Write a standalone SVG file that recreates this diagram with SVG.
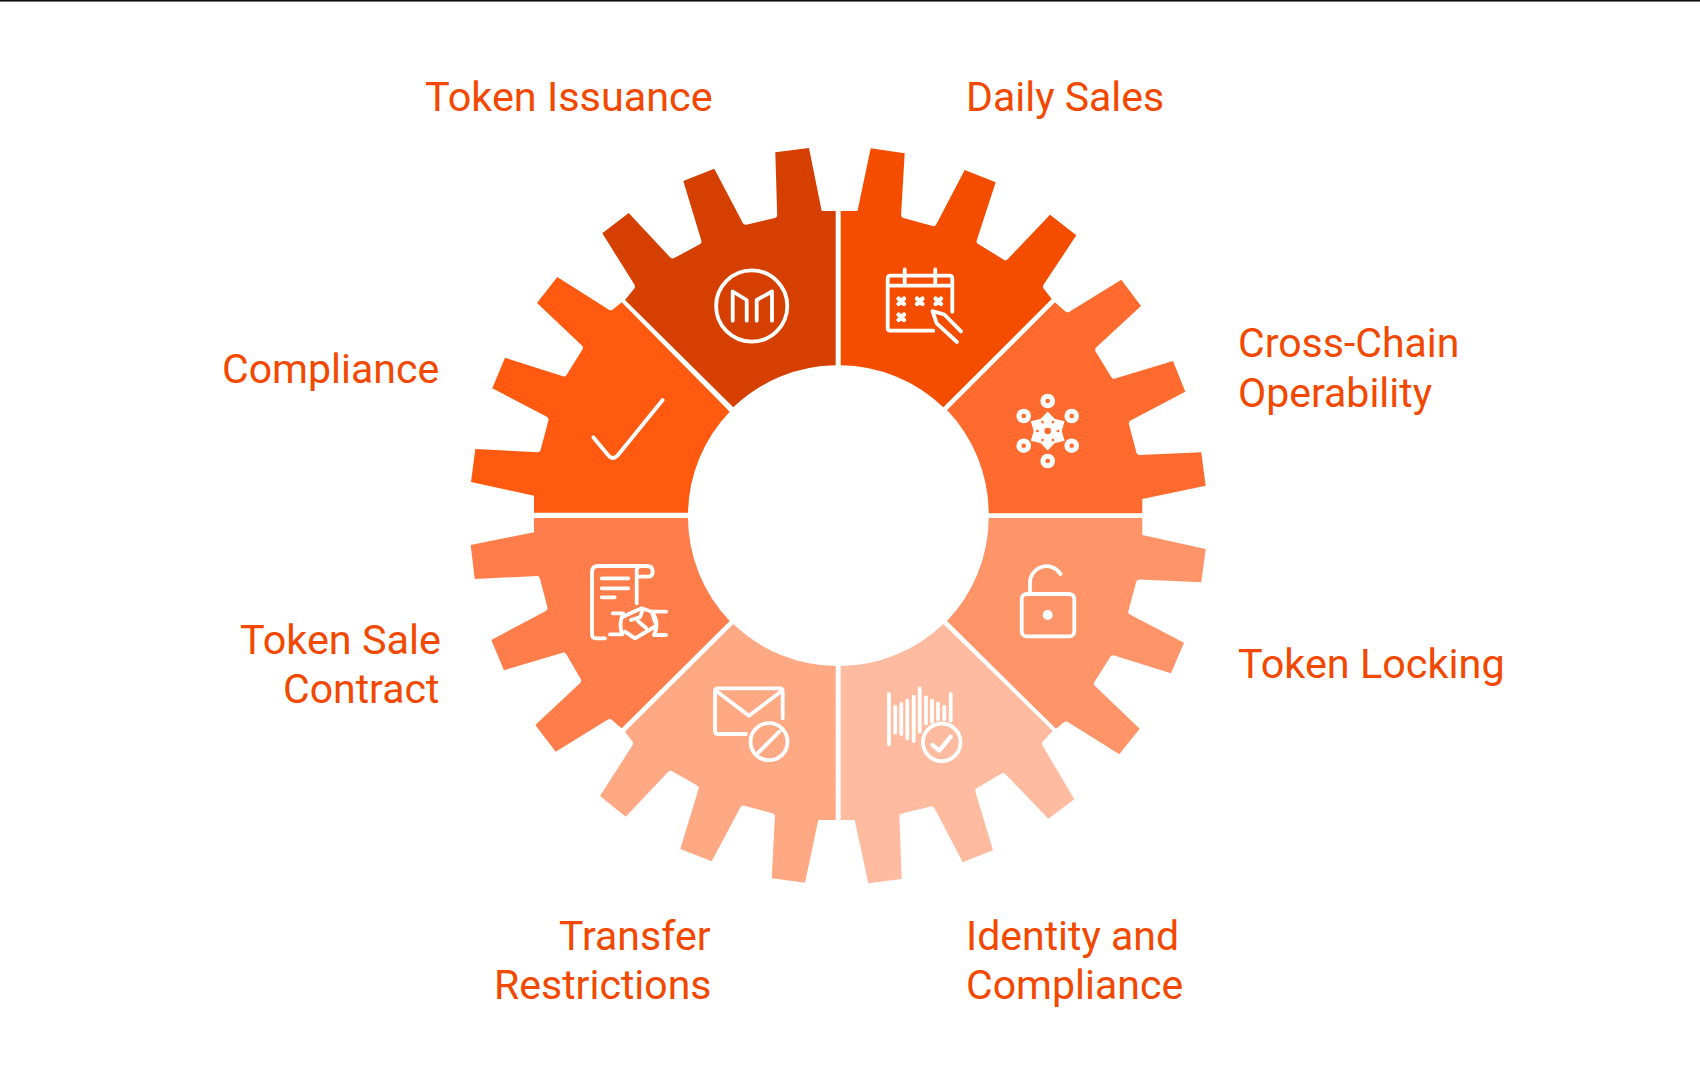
<svg xmlns="http://www.w3.org/2000/svg" width="1700" height="1080" viewBox="0 0 1700 1080">
<style>
text{font-family:Roboto,"Liberation Sans",sans-serif;font-size:41px;fill:#F24800}
text.t{font-size:41.4px}
.i{fill:none;stroke:#fff;stroke-width:3.8;stroke-linecap:round;stroke-linejoin:round}
.w{fill:#fff;stroke:none}
</style>
<defs>
<g id="spoke"><path class="w" d="M0,-19.5L8,-11L4,-10L4,-4L-4,-4L-4,-10L-8,-11Z"/></g>
</defs>
<rect width="1700" height="1080" fill="#fff"/>
<rect width="1700" height="1.6" fill="#111"/>

<g id="token-issuance">
<path fill="#D54000" d="M835.7,211V365.3A150.5,150.5 0 0 0 733.3,407.3L625,300L634.1,288.7Q635.7,286.7 634.4,284.6L602.3,233.3L628.7,213L670.3,257.5Q672,259.3 674.2,258.1L699.8,244.2Q702,243 701.3,240.6L683.3,181L714.3,168.7L742.8,223.1Q744,225.3 746.4,224.7L774.9,217.9Q777.3,217.3 777.2,214.8L775.3,152.3L809,148L821.7,211Z"/>
<circle class="i" cx="751.7" cy="306" r="35.6"/>
<path class="i" d="M732.7,320.7V291.5L746.7,300V320.7M756.7,320.7V300L772,291.5V320.7"/>
<text class="t" x="425" y="111">Token Issuance</text>
</g>

<g id="daily-sales">
<path fill="#F54D00" d="M840.7,211H857.5L870.7,148.3L904.7,153.3L901.1,214.8Q901,217.3 903.4,218L932.6,226Q935,226.7 936.2,224.5L964.7,170L995.7,182.3L976.8,240.3Q976,242.7 978.1,244L1003.9,259.7Q1006,261 1007.7,259.2L1050,214.7L1076.3,235.3L1043.7,284.6Q1042.3,286.7 1043.8,288.7L1051.7,299L943.3,407.3A150.5,150.5 0 0 0 840.7,365.3Z"/>
<path class="i" d="M933.3,330.7H890.5Q887.7,330.7 887.7,328V278.5Q887.7,275.7 890.5,275.7H949.5Q952.3,275.7 952.3,278.5V311.7M887.7,285.7H952.3M904.7,269.3V282.7M935.3,269.3V282.7"/>
<path class="i" style="stroke-width:4.4" d="M898.6,298.6L904,304M904,298.6L898.6,304M917,298.6L922.4,304M922.4,298.6L917,304M935.6,298.6L941,304M941,298.6L935.6,304M898.6,314.6L904,320M904,314.6L898.6,320"/>
<path class="i" d="M932.5,311.2L944.3,314.5L961,331.3M932.5,311.2L936.7,323.3L957,342"/>
<text x="966" y="111">Daily Sales</text>
</g>

<g id="cross-chain-operability">
<path fill="#FF6B2F" d="M988.7,513.3H1142.3V499L1205.7,485.7L1201.3,452.3L1139.5,454.9Q1137,455 1136.4,452.6L1128.9,424.1Q1128.3,421.7 1130.5,420.5L1185.3,391.7L1173,361L1115.1,378.6Q1112.7,379.3 1111.4,377.2L1095.6,351.4Q1094.3,349.3 1096.1,347.6L1141,306L1121.3,279.7L1069.4,311.7Q1067.3,313 1065.4,311.4L1055,302.3L947,410A150.5,150.5 0 0 1 988.7,513.3Z"/>
<g fill="none" stroke="#fff" stroke-width="5">
<circle cx="1047.7" cy="401" r="4.8"/><circle cx="1071.7" cy="416" r="4.8"/><circle cx="1071.7" cy="445.7" r="4.8"/><circle cx="1047.7" cy="461" r="4.8"/><circle cx="1023.7" cy="445.7" r="4.8"/><circle cx="1023.7" cy="416" r="4.8"/>
<circle cx="1047.7" cy="431" r="6" stroke-width="5.4"/>
</g>
<g transform="translate(1047.7,431)">
<use href="#spoke"/><use href="#spoke" transform="rotate(60)"/><use href="#spoke" transform="rotate(120)"/><use href="#spoke" transform="rotate(180)"/><use href="#spoke" transform="rotate(240)"/><use href="#spoke" transform="rotate(300)"/>
</g>
<text x="1238" y="357">Cross-Chain</text>
<text x="1238" y="407">Operability</text>
</g>

<g id="token-locking">
<path fill="#FF9469" d="M988.7,518H1142.3V535L1205.7,549L1201.3,582.3L1139.5,579.4Q1137,579.3 1136.3,581.7L1128.4,610.9Q1127.7,613.3 1129.9,614.5L1184,642.7L1171,673.3L1114.1,655.4Q1111.7,654.7 1110.4,656.8L1094.4,681.9Q1093,684 1094.8,685.7L1139.7,728.7L1119.3,754.3L1067.8,722Q1065.7,720.7 1063.8,722.3L1056,728.7L947,621A150.5,150.5 0 0 0 988.7,518Z"/>
<rect class="i" x="1021.7" y="594" width="52.6" height="42.4" rx="5"/>
<path class="i" d="M1030,592V583.5A16.5,16.5 0 0 1 1060.5,574"/>
<circle class="w" cx="1047.7" cy="615" r="5"/>
<text class="t" x="1238" y="678">Token Locking</text>
</g>

<g id="identity-and-compliance">
<path fill="#FFBBA0" d="M840.7,666A150.5,150.5 0 0 0 943.3,624L1052.7,730.7L1043,741.4Q1041.3,743.3 1042.6,745.5L1074.3,799.3L1048.3,818.7L1005.4,774.1Q1003.7,772.3 1001.6,773.6L976.9,788Q974.7,789.3 975.4,791.7L993,850.3L962.7,862.3L934.5,808.2Q933.3,806 930.9,806.6L901.7,813.4Q899.3,814 899.4,816.5L901.7,879L868.3,883.3L854.7,820H840.7Z"/>
<path class="i" d="M889,694V744.3M895.3,706.7V732.7M901.3,704V734M907.3,700.7V738.3M913.7,696.7V741M919.7,688.3V731.7M926,697.3V723.3M932,700.7V721.7M938,703.3V719.3M944.3,706.7V719.3M950.7,694V720.7"/>
<circle class="i" cx="941.7" cy="742.3" r="18.8"/>
<path class="i" style="stroke-width:4.2" d="M932.3,745L939.3,750.7L950.7,736.7"/>
<text x="966" y="950">Identity and</text>
<text x="966" y="999">Compliance</text>
</g>

<g id="transfer-restrictions">
<path fill="#FFA884" d="M835.7,666V820H818.3L805,882.7L771.7,878.3L774.9,816.5Q775,814 772.6,813.3L744.1,805.7Q741.7,805 740.5,807.2L711.7,861.3L680.3,849L698.6,789.1Q699.3,786.7 697.1,785.5L672.2,771.2Q670,770 668.3,771.8L625.7,816.7L600,796L632.4,745.4Q633.7,743.3 632.2,741.3L625,731.7L733.3,624A150.5,150.5 0 0 0 835.7,666Z"/>
<path class="i" d="M746,734H718Q715,734 715,731V691.3Q715,688.3 718,688.3H779.7Q782.7,688.3 782.7,691.3V718.3M717.3,691.7L749,715.7L780.7,691.7"/>
<circle class="i" cx="769" cy="741.7" r="18.5"/>
<path class="i" d="M758.3,752.7L779.3,731.7"/>
<text x="559" y="950">Transfer</text>
<text x="494" y="999">Restrictions</text>
</g>

<g id="token-sale-contract">
<path fill="#FF7D4A" d="M688,518H534V532.3L470.7,545L474.7,579L536.8,576.1Q539.3,576 539.9,578.4L547.4,607.3Q548,609.7 545.8,610.9L491.3,640L504,670.3L562.6,652.7Q565,652 566.3,654.2L580.7,679.1Q582,681.3 580.2,683L535.3,725L555.7,751.7L607.9,719.6Q610,718.3 611.9,719.9L621.7,728.3L729.7,621A150.5,150.5 0 0 1 688,518Z"/>
<path class="i" d="M605,638.3H596Q592,638.3 592,634.3V572Q592,566 598.3,566H646.7Q652.7,566 652.7,571.5Q652.7,576.7 648,576.7H640M636.7,570V603.3M636.7,570Q636.7,566 641,566M601.7,578.3H628.3M601.7,588.3H628.3M601.7,597.3H614.7"/>
<path class="i" d="M612.7,613.3H623.3Q618,624 622.5,634.3H610M666,611.7H651.7Q660,623 654,635H666"/>
<path class="i" d="M623.3,616.7L632,612.5L641.7,608.3L651.7,611.7L655,622M625,631.7L635,638.3L656,626M631,620L640,617L642,612M638,621L646,628"/>
<text class="t" x="240" y="654">Token Sale</text>
<text x="283" y="703">Contract</text>
</g>

<g id="compliance">
<path fill="#FF5A10" d="M688,512.7H534V495.7L471,482L475.3,449L537.5,452.2Q540,452.3 540.6,449.9L548.4,420.4Q549,418 546.8,416.8L492.3,388.3L505,357.7L562.9,376.2Q565.3,377 566.6,374.9L582.4,349.4Q583.7,347.3 581.9,345.6L537,303L557.3,277L608.9,309.7Q611,311 612.9,309.4L621.7,302.3L729.7,411.7A150.5,150.5 0 0 0 688,512.7Z"/>
<path class="i" d="M593.3,437.3L608,455Q613,461 618,455L662.7,400"/>
<text x="222" y="383">Compliance</text>
</g>
</svg>
